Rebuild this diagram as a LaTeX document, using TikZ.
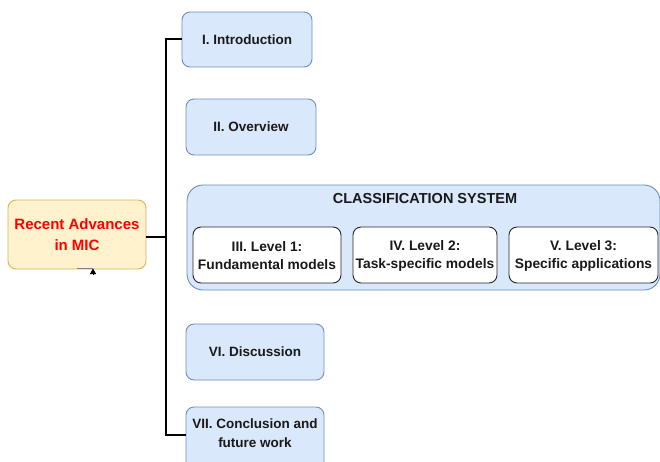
\documentclass[tikz,border=0pt]{standalone}
\usepackage{fontspec}
\setmainfont{Liberation Sans}
\usetikzlibrary{arrows.meta}
\definecolor{bfill}{HTML}{DAE8FC}
\definecolor{bline}{HTML}{6C8EBF}
\definecolor{yfill}{HTML}{FFF2CC}
\definecolor{yline}{HTML}{D6B656}
\begin{document}
\begin{tikzpicture}[x=1pt,y=-1pt,
  bluebox/.style={draw=bline,fill=bfill,rounded corners=8pt,line width=0.9pt},
  innerbox/.style={draw=black!85,fill=white,rounded corners=8pt,line width=0.9pt},
  lbl/.style={font=\fontsize{13.5}{19}\selectfont\bfseries,align=center,text=black!90},
  inlbl/.style={font=\fontsize{13.8}{18}\selectfont\bfseries,align=center,text=black!90},
  conn/.style={line width=1.4pt,black}]
\useasboundingbox (0,0) rectangle (660,461);
% MIC box
\draw[draw=yline,fill=yfill,rounded corners=8pt,line width=0.9pt] (8,200) rectangle (146,269);
\node[font=\fontsize{15}{21}\selectfont\bfseries,text=red,align=center] (mic) at (77,234.5) {Recent Advances\\in MIC};
\coordinate (micE) at (146,237);
\coordinate (micS) at (93,268.5);
% boxes
\draw[bluebox] (182,12) rectangle (312,67);
\node[lbl] (intro) at (247,39.5) {I. Introduction};
\coordinate (introW) at (182,39);
\draw[bluebox] (186,99) rectangle (316,155);
\node[lbl] (over) at (251,127) {II. Overview};
\draw[bluebox,rounded corners=16pt] (187,185) rectangle (660,290);
\node[lbl,font=\fontsize{14.5}{19}\selectfont\bfseries] (cls) at (425,199) {CLASSIFICATION SYSTEM};
\draw[innerbox] (193,227) rectangle (341,283);
\node[inlbl] (l1) at (267,255.5) {III. Level 1:\\Fundamental models};
\draw[innerbox] (353,227) rectangle (497,283);
\node[inlbl] (l2) at (425,255.5) {IV. Level 2:\\Task-specific models};
\draw[innerbox] (509,227) rectangle (658,283);
\node[inlbl] (l3) at (583.5,255.5) {V. Level 3:\\Specific applications};
\draw[bluebox] (186,324) rectangle (324,380);
\node[lbl] (disc) at (255,352) {VI. Discussion};
\draw[bluebox] (186,407) rectangle (324,470);
\node[lbl] (conc) at (255,433.5) {VII. Conclusion and\\future work};
\coordinate (concW) at (186,435);
% connectors
\coordinate (trunk) at (166,237);
\draw[conn] (micE) -- (trunk);
\draw[conn] (trunk) |- (introW);
\draw[conn] (trunk) |- (concW);
% small arrow under MIC
\coordinate (micSL) at (77,268.5);
\coordinate (tipfoot) at (93,274);
\draw[gray,line width=1.3pt] (micSL) -- (micS);
\draw[-{Triangle[length=5.5pt,width=6pt]},black,line width=0.5pt] (tipfoot) -- (micS);
\end{tikzpicture}
\end{document}
